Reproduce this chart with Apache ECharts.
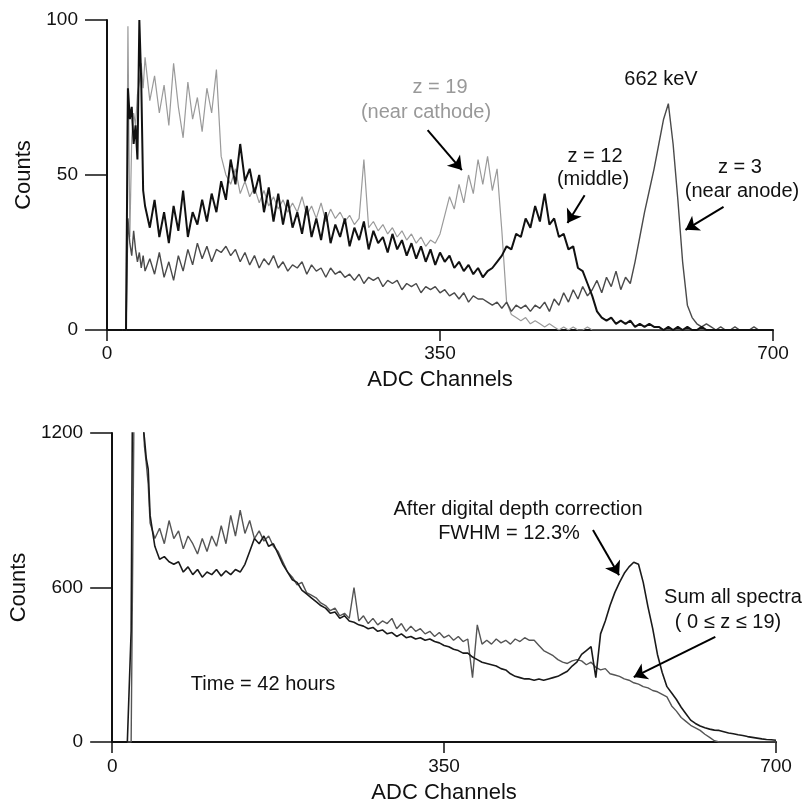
<!DOCTYPE html>
<html>
<head>
<meta charset="utf-8">
<script src="https://cdn.jsdelivr.net/npm/echarts@6/dist/echarts.min.js"></script>
<style>html,body{margin:0;padding:0;background:#fff;}#c{width:804px;height:807px;}</style>
</head>
<body>
<div id="c"></div>
<script>
// ADC channel sampling grid (shared by all spectra)
const channels = [16,18,20,22,24,26,28,30,32,34,36,38,40,
45,50,55,60,65,70,75,80,85,90,
95,100,105,110,115,120,125,130,135,140,
145,150,155,160,165,170,175,180,185,190,
195,200,205,210,215,220,225,230,235,240,
245,250,255,260,265,270,275,280,285,290,
295,300,305,310,315,320,325,330,335,340,
345,350,355,360,365,370,375,380,385,390,
395,400,405,410,415,420,425,430,435,440,
445,450,455,460,465,470,475,480,485,490,
495,500,505,510,515,520,525,530,535,540,
545,550,555,560,565,570,575,580,585,590,
595,600,605,610,615,620,625,630,635,640,
645,650,655,660,665,670,675,680,685,690,
695,700];

// Top panel: counts per depth slice
const z19 = [0,0,0,98,30,62,70,66,76,80,86,78,88,
74,82,70,79,66,86,72,62,80,68,
75,64,78,70,84,56,50,47,52,44,
48,43,46,41,45,40,43,39,42,38,
41,38,43,37,40,36,41,35,39,36,
38,35,37,34,36,55,33,35,32,34,
31,33,30,32,29,31,28,30,27,29,
28,31,37,43,39,47,41,50,44,55,
47,56,45,52,32,9,5,4,3,4,
2,3,2,1,2,1,0,1,0,1,
0,0,1,0,0,0,0,0,0,0,
0,0,0,0,0,0,0,0,0,0,
0,0,0,0,0,0,0,0,0,0,
0,0,0,0,0,0,0,0,0,0,
0,0];

const z12 = [0,0,0,78,68,72,60,66,55,100,80,45,40,
33,42,30,38,28,40,32,45,30,38,
34,42,35,44,38,48,42,55,47,60,
48,52,44,50,38,46,35,44,34,42,
33,38,31,40,30,36,29,38,28,34,
30,36,27,33,29,35,26,32,28,30,
25,31,26,29,24,28,23,27,22,26,
21,25,22,24,20,22,19,21,18,20,
17,19,20,22,24,27,26,31,30,36,
33,40,35,44,34,36,30,31,26,27,
20,19,15,11,6,4,3,4,2,3,
2,3,1,2,1,2,1,1,0,1,
0,1,0,1,0,0,1,0,0,0,
0,0,0,0,0,0,0,0,0,0,
0,0];

const z3 = [0,0,0,36,28,24,32,26,22,25,20,24,19,
23,18,25,17,22,16,24,19,26,21,
28,23,27,22,26,25,27,24,26,22,
25,21,24,20,23,21,24,20,22,19,
21,20,22,18,21,19,20,17,20,18,
19,17,18,16,18,15,17,16,17,14,
16,15,16,13,15,14,15,12,14,13,
14,12,13,11,12,10,12,9,11,10,
10,9,8,9,7,9,6,8,7,8,
6,8,7,9,6,10,8,12,9,13,
10,14,11,13,16,12,17,14,19,13,
17,15,22,30,38,45,52,60,68,73,
60,42,22,8,4,2,1,2,1,0,
1,0,0,1,0,0,0,1,0,0,
0,0];

// Bottom panel
const corrected = [0,0,430,1700,1700,1700,1650,1450,1250,1180,1100,1060,880,
760,710,720,700,690,700,660,680,650,670,
640,660,650,670,645,665,650,670,660,690,
740,790,770,800,760,770,730,690,660,630,
620,590,575,560,545,530,520,500,505,480,
490,470,465,455,450,440,445,430,435,420,
425,410,420,405,410,400,405,395,400,390,
385,375,370,360,355,345,345,330,320,310,
305,300,295,285,280,265,255,250,245,245,
240,245,240,245,250,255,265,275,295,310,
340,355,370,250,420,470,530,580,620,655,
680,698,690,620,525,440,340,270,215,190,
165,135,110,85,72,62,55,50,46,45,
40,35,32,28,25,21,18,15,12,10,
9,7];

const sumAll = [0,0,0,0,1700,1700,1700,1500,1300,1150,1080,1000,850,
790,830,770,860,790,820,750,800,770,730,
790,740,800,760,840,770,880,800,900,810,
860,790,820,780,800,760,740,700,660,640,
610,620,580,570,560,540,530,510,520,490,
500,480,600,470,490,460,480,455,470,460,
480,440,460,430,450,430,440,420,430,410,
425,405,415,395,410,390,400,250,455,380,
395,380,400,385,395,380,400,390,405,395,
395,375,355,345,335,320,310,305,315,320,
315,300,310,290,280,285,265,260,255,245,
240,230,225,215,210,200,195,185,175,140,
120,95,80,65,55,45,30,18,5,0,
0,0,0,0,0,0,0,0,0,0,
0,0];

const xTicks = [0, 350, 700];
const yTicksTop = [0, 50, 100];
const yTicksBottom = [0, 600, 1200];

const FONT = "'Liberation Sans', Arial, Helvetica, sans-serif";
const pair = (ys) => channels.map((c, i) => [c, ys[i]]);

function xAxis(gridIndex, labelMargin, nameGap) {
  return {
    type: 'value', gridIndex, min: xTicks[0], max: xTicks[2], interval: xTicks[1] - xTicks[0],
    name: 'ADC Channels', nameLocation: 'middle', nameGap,
    nameTextStyle: { fontFamily: FONT, fontSize: 22, color: '#111' },
    axisLine: { show: true, onZero: false, lineStyle: { color: '#111', width: 2 } },
    axisTick: { show: true, length: 11, lineStyle: { color: '#111', width: 1.5 } },
    axisLabel: { fontFamily: FONT, fontSize: 19, color: '#111', margin: labelMargin, formatter: v => String(v) },
    splitLine: { show: false }
  };
}
function yAxis(gridIndex, ticks, nameGap) {
  return {
    type: 'value', gridIndex, min: ticks[0], max: ticks[2], interval: ticks[1] - ticks[0],
    name: 'Counts', nameLocation: 'middle', nameGap,
    nameTextStyle: { fontFamily: FONT, fontSize: 22, color: '#111' },
    axisLine: { show: true, onZero: false, lineStyle: { color: '#111', width: 2 } },
    axisTick: { show: true, length: 22, lineStyle: { color: '#111', width: 1.5 } },
    axisLabel: { fontFamily: FONT, fontSize: 19, color: '#111', margin: 29, formatter: v => String(v) },
    splitLine: { show: false }
  };
}
function arrows(list) {
  return {
    silent: true, symbol: 'arrow', symbolSize: 13,
    label: { show: false }, emphasis: { disabled: true },
    itemStyle: { color: '#000' },
    lineStyle: { color: '#000', width: 2, type: 'solid' },
    animation: false,
    data: list.map(a => [
      { coord: a[0], symbol: 'none' },
      { coord: a[1], symbol: 'arrow', symbolSize: 13, itemStyle: { color: '#000' } }
    ])
  };
}
function line(name, xi, data, color, width, mark) {
  const s = {
    name, type: 'line', xAxisIndex: xi, yAxisIndex: xi, data: pair(data),
    showSymbol: false, symbol: 'none', clip: true,
    lineStyle: { color, width }, itemStyle: { color }, z: 2
  };
  if (mark) s.markLine = arrows(mark);
  return s;
}
function txt(text, x, y, color) {
  return { type: 'text', x, y, silent: true,
    style: { text, fill: color || '#111', font: '20px ' + FONT, textAlign: 'center', textVerticalAlign: 'middle' } };
}

const chart = echarts.init(document.getElementById('c'), null, { renderer: 'canvas' });
chart.setOption({
  backgroundColor: '#fff',
  animation: false,
  grid: [
    { left: 107, top: 20, width: 666, height: 310 },
    { left: 110, top: 433, width: 666, height: 309 }
  ],
  xAxis: [xAxis(0, 14, 39), xAxis(1, 15, 40)],
  yAxis: [yAxis(0, yTicksTop, 72), yAxis(1, yTicksBottom, 78)],
  series: [
    line('z = 19 (near cathode)', 0, z19, '#9a9a9a', 1.2, [[[337, 64.5], [373, 51.6]]]),
    line('z = 3 (near anode)', 0, z3, '#4a4a4a', 1.4, [[[648, 39.7], [608, 32.3]]]),
    line('z = 12 (middle)', 0, z12, '#111111', 2, [[[502, 43.5], [484, 34.5]]]),
    line('Sum all spectra', 1, sumAll, '#555555', 1.4, [[[636, 408], [550, 252]]]),
    line('After digital depth correction', 1, corrected, '#1a1a1a', 1.6, [[[507, 823], [534.5, 648]]])
  ],
  graphic: [
    txt('z = 19', 440, 87, '#999'),
    txt('(near cathode)', 426, 112, '#999'),
    txt('662 keV', 661, 79),
    txt('z = 12', 595, 156),
    txt('(middle)', 593, 179),
    txt('z = 3', 740, 167),
    txt('(near anode)', 742, 191),
    txt('After digital depth correction', 518, 509),
    txt('FWHM = 12.3%', 509, 533),
    txt('Sum all spectra', 733, 597),
    txt('( 0 \u2264 z \u2264 19)', 728, 622),
    txt('Time = 42 hours', 263, 684)
  ]
});
</script>
</body>
</html>
